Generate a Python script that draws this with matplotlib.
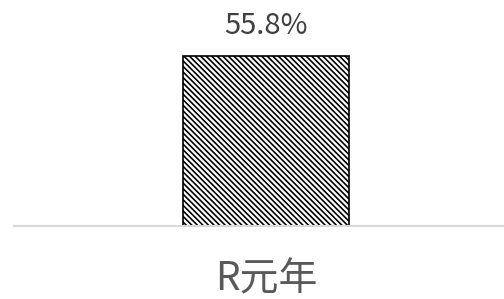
import matplotlib
matplotlib.use("Agg")
import matplotlib.pyplot as plt

plt.rcParams['font.family'] = ['Noto Sans CJK JP', 'DejaVu Sans']
plt.rcParams['hatch.linewidth'] = 1.2

categories = ["R元年"]
values = [55.8]
labels = ["55.8%"]

fig = plt.figure(figsize=(5.04, 2.99), dpi=100)
ax = fig.add_axes([14/504, (299-226)/299, 490/504, 206/299])

ax.bar(range(len(categories)), values, width=0.339, color="white",
       edgecolor="black", linewidth=1.2, hatch="\\" * 6, zorder=2)
for i, (v, t) in enumerate(zip(values, labels)):
    ax.text(i, v + 5.0, t, ha="center", va="bottom", fontsize=21, color="#404040")

ax.set_xlim(-0.514, 0.486)
ax.set_ylim(0, 67.6)
ax.set_xticks(range(len(categories)))
ax.set_xticklabels(categories, fontsize=28, color="#595959")
ax.tick_params(axis="x", length=0, pad=24)
ax.set_yticks([])
for s in ["top", "right", "left"]:
    ax.spines[s].set_visible(False)
ax.spines["bottom"].set_color("#d9d9d9")
ax.spines["bottom"].set_linewidth(1.5)

fig.savefig("out.png", dpi=100)
